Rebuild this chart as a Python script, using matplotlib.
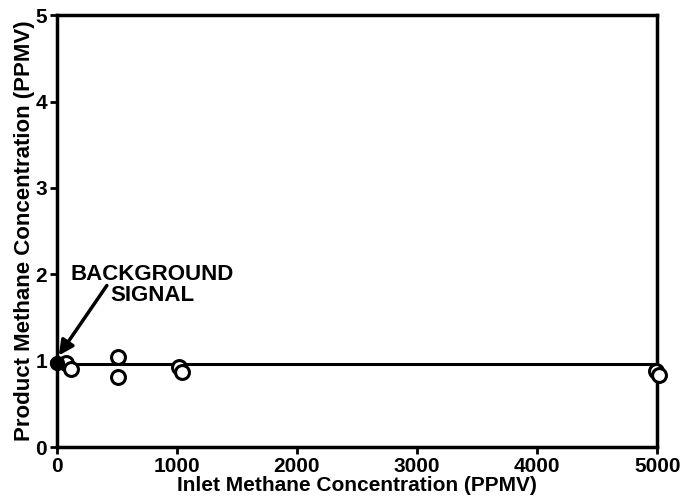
import matplotlib
matplotlib.use('Agg')
import matplotlib.pyplot as plt

# Data
inlet = [80, 117, 508, 508, 1017, 1040, 4992, 5017]
product = [0.97, 0.90, 1.04, 0.81, 0.93, 0.87, 0.88, 0.83]
bg_x = [0]
bg_y = [0.97]
level = 0.96

x_ticks = [0, 1000, 2000, 3000, 4000, 5000]
y_ticks = [0, 1, 2, 3, 4, 5]

plt.rcParams['font.family'] = ['Liberation Sans', 'DejaVu Sans']
plt.rcParams['font.weight'] = 'bold'

fig = plt.figure(figsize=(6.84, 5.04), dpi=100)
ax = fig.add_axes([0.083, 0.113, 0.878, 0.857])

ax.axhline(level, color='black', lw=2.2, zorder=1)
ax.plot(inlet, product, ls='', marker='o', markersize=10, mfc='white',
        mec='black', mew=2.2, zorder=3, clip_on=False)
ax.plot(bg_x, bg_y, ls='', marker='o', markersize=10, color='black',
        zorder=3, clip_on=False)

# label and arrow pointing at the background point
ax.text(117, 1.88, 'BACKGROUND\nSIGNAL', fontsize=16, fontweight='bold',
        ha='left', va='center', multialignment='center', linespacing=1.0)
ax.annotate('', xy=(17, 1.06), xytext=(417, 1.87),
            arrowprops=dict(arrowstyle='-|>', color='black', lw=2.5,
                            mutation_scale=22, shrinkA=0, shrinkB=0))

ax.set_xlim(0, 5000)
ax.set_ylim(0, 5)
ax.set_xticks(x_ticks)
ax.set_yticks(y_ticks)
ax.tick_params(direction='out', length=5, width=2, labelsize=15,
               pad=2)
for lab in ax.get_xticklabels() + ax.get_yticklabels():
    lab.set_fontweight('bold')
for s in ax.spines.values():
    s.set_linewidth(2.5)

ax.set_xlabel('Inlet Methane Concentration (PPMV)', fontsize=15,
              fontweight='bold', labelpad=0)
ax.set_ylabel('Product Methane Concentration (PPMV)', fontsize=16,
              fontweight='bold', labelpad=0)

fig.savefig('out.png', dpi=100)
